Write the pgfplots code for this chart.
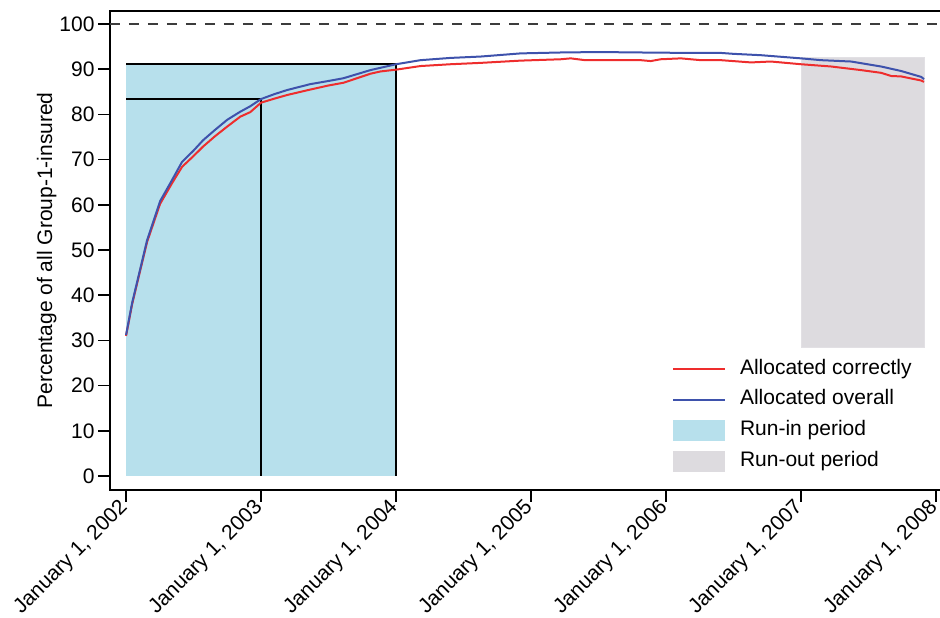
\documentclass[border=0pt]{standalone}
\usepackage{pgfplots}
\pgfplotsset{compat=1.18}
\usepackage{fontspec}
\setmainfont{Liberation Sans}
\definecolor{corrred}{RGB}{238,45,45}
\definecolor{overblue}{RGB}{62,82,172}
\definecolor{runin}{RGB}{183,224,236}
\definecolor{runout}{RGB}{221,219,223}
\definecolor{dashgray}{RGB}{60,60,60}
\newcommand\chartfont{\fontsize{21}{25}\selectfont}
\pgfplotsset{
    lineleg/.style={legend image code/.code={\draw[##1] (0pt,0pt) -- (52pt,0pt);}},
    boxleg/.style={legend image code/.code={\fill[##1] (0pt,-10.5pt) rectangle (52pt,10.5pt);}},
}

% share of Group-1 insured, allocated overall (blue) and correctly (red)
\pgfplotstableread{
x        y
2002.000 31.2
2002.045 38.3
2002.089 43.8
2002.156 52.2
2002.252 60.8
2002.341 65.5
2002.415 69.5
2002.500 72.0
2002.571 74.3
2002.660 76.6
2002.749 78.8
2002.846 80.6
2002.920 81.8
2003.000 83.4
2003.100 84.5
2003.194 85.4
2003.365 86.7
2003.500 87.4
2003.610 88.0
2003.810 89.8
2004.000 91.1
2004.181 92.0
2004.404 92.5
2004.626 92.8
2004.923 93.5
2005.220 93.7
2005.500 93.8
2005.813 93.7
2006.184 93.6
2006.407 93.6
2006.500 93.4
2006.703 93.1
2007.000 92.4
2007.148 92.0
2007.371 91.7
2007.593 90.6
2007.742 89.6
2007.890 88.3
2007.911 87.8
}\overall

\pgfplotstableread{
x        y
2002.000 31.0
2002.045 38.0
2002.089 43.5
2002.156 51.8
2002.252 60.2
2002.341 64.8
2002.415 68.4
2002.500 70.8
2002.571 72.9
2002.660 75.2
2002.749 77.3
2002.846 79.5
2002.920 80.5
2003.000 82.6
2003.100 83.5
2003.194 84.3
2003.365 85.5
2003.500 86.4
2003.610 87.0
2003.810 89.0
2003.884 89.5
2004.000 89.9
2004.181 90.7
2004.404 91.1
2004.626 91.4
2004.923 91.9
2005.220 92.2
2005.294 92.4
2005.400 92.0
2005.813 92.0
2005.887 91.8
2005.960 92.2
2006.110 92.4
2006.258 92.0
2006.407 92.0
2006.629 91.5
2006.777 91.7
2006.926 91.3
2007.000 91.1
2007.223 90.6
2007.445 89.8
2007.593 89.2
2007.668 88.5
2007.742 88.4
2007.890 87.5
2007.911 87.2
}\correct

\begin{document}
\begin{tikzpicture}
\begin{axis}[
    scale only axis,
    width=831pt, height=479pt,
    xmin=2001.881, xmax=2008.037,
    ymin=-3.10, ymax=102.88,
    axis line style={line width=1.6pt, black},
    tick style={line width=1.6pt, black},
    tick align=outside,
    major tick length=12pt,
    xtick pos=bottom, ytick pos=left,
    xtick={2002,2003,2004,2005,2006,2007,2008},
    xticklabels={{January 1, 2002},{January 1, 2003},{January 1, 2004},{January 1, 2005},{January 1, 2006},{January 1, 2007},{January 1, 2008}},
    xticklabel style={font=\chartfont, yshift=-1pt, rotate=45, anchor=east, inner sep=2pt},
    ytick={0,10,...,100},
    yticklabel style={font=\chartfont},
    /pgf/number format/assume math mode=true,
    ylabel={Percentage of all Group-1-insured},
    ylabel style={font=\chartfont, yshift=-4pt},
    legend cell align=left,
    legend style={
        at={(0.6763,0.2745)}, anchor=north west,
        draw=none, fill=none, inner sep=0pt, outer sep=0pt,
        font=\chartfont, row sep=9.7pt,
        nodes={inner sep=0pt, text height=15.5pt, text depth=5.5pt},
        /tikz/every odd column/.append style={column sep=14pt},
    },
]
\coordinate (tl) at (rel axis cs:0,1);
\coordinate (br) at (rel axis cs:1,0);

% shaded periods
\addplot[fill=runin, draw=none, forget plot] coordinates {(2002,0) (2004,0) (2004,91.1) (2002,91.1)} -- cycle;
\addplot[fill=runout, draw=runout!85!white, forget plot] coordinates {(2007,28.5) (2007.911,28.5) (2007.911,92.7) (2007,92.7)} -- cycle;

% reference lines
\addplot[dashgray, line width=1.5pt, dash pattern=on 10pt off 9pt, forget plot] coordinates {(2001.881,100) (2008.037,100)};
\addplot[black, line width=1.6pt, forget plot] coordinates {(2002,83.4) (2003,83.4) (2003,0)};
\addplot[black, line width=1.6pt, forget plot] coordinates {(2002,91.1) (2004,91.1) (2004,0)};

% series
\addplot[corrred, line width=2pt, forget plot] table[x=x, y=y] {\correct};
\addplot[overblue, line width=2pt, forget plot] table[x=x, y=y] {\overall};

\addlegendimage{corrred, line width=2pt, lineleg}
\addlegendentry{Allocated correctly}
\addlegendimage{overblue, line width=2pt, lineleg}
\addlegendentry{Allocated overall}
\addlegendimage{fill=runin, draw=none, boxleg}
\addlegendentry{Run-in period}
\addlegendimage{fill=runout, draw=none, boxleg}
\addlegendentry{Run-out period}
\end{axis}
\pgfresetboundingbox
\path ([shift={(-110pt,11pt)}]tl) rectangle ([shift={(-1pt,-128pt)}]br);
\end{tikzpicture}
\end{document}
